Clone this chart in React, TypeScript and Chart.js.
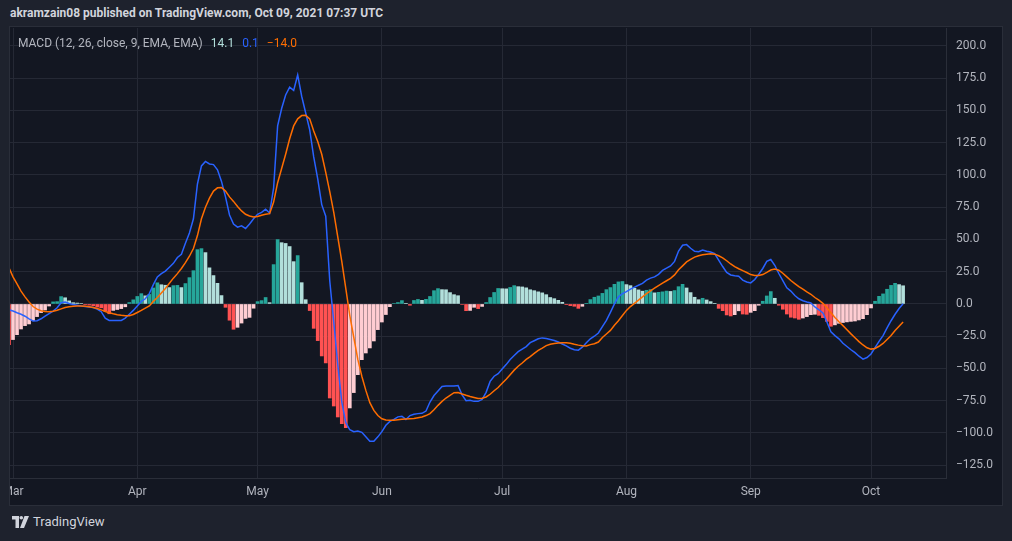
import { useEffect, useRef } from 'react';
import { Chart, registerables } from 'chart.js';

Chart.register(...registerables);

// ---- data (days counted from 2021-03-01 = 0) ----
const START_DAY = -1;
const MONTH_LABELS = ['Mar', 'Apr', 'May', 'Jun', 'Jul', 'Aug', 'Sep', 'Oct'];
const MONTH_START_DAY = [0, 31, 61, 92, 122, 153, 184, 214];
const Y_TICKS = [-125, -100, -75, -50, -25, 0, 25, 50, 75, 100, 125, 150, 175, 200];

const histogram = [
  -31.5, -27.6, -23.8, -19.4, -16.8, -15.5, -12.9, -9.8, -6.7, -4.7, -1.6,
  1.6, 1.8, 5.7, 4.8, 2.4, 1.0, 0.7, 0.4, -0.5, -0.9,
  -1.4, -2.4, -3.0, -5.5, -7.6, -5.0, -4.3, -3.6, -2.2, 1.1,
  3.2, 5.8, 8.0, 6.3, 7.4, 12.4, 16.4, 14.9, 14.5, 12.7,
  14.2, 14.4, 12.7, 15.8, 20.4, 25.8, 42.1, 42.9, 39.8, 28.0,
  22.0, 16.0, 6.5, -2.6, -12.6, -19.6, -18.1, -14.8, -11.2, -10.4,
  -3.3, 1.8, 2.6, 5.0, 1.0, 30.5, 49.9, 47.5, 46.9, 44.5,
  32.8, 37.5, 16.5, 3.3, -5.1, -18.9, -28.4, -40.3, -45.7, -72.9,
  -79.1, -87.6, -92.8, -95.9, -80.6, -68.7, -54.8, -43.2, -38.0, -34.1,
  -28.7, -19.9, -14.0, -8.2, -2.1, 0.4, 1.1, 2.6, 0.3, -1.0,
  2.7, 3.5, 2.8, 3.6, 5.8, 10.3, 11.9, 11.1, 11.0, 8.8,
  7.2, 6.4, -0.4, -5.2, -5.0, -2.6, -3.6, -1.9, 1.1, 5.0,
  8.9, 12.0, 11.8, 11.7, 12.8, 14.2, 13.4, 13.2, 12.5, 11.0,
  10.3, 9.4, 8.6, 7.2, 5.0, 4.1, 2.8, 1.3, -0.5, -1.3,
  -1.8, -3.4, -1.8, 0.5, 3.4, 5.2, 6.2, 8.2, 11.1, 12.7,
  15.2, 17.1, 17.4, 15.0, 14.2, 12.2, 10.9, 9.9, 10.6, 11.1,
  8.6, 9.0, 9.4, 10.0, 9.7, 10.4, 13.4, 15.2, 12.4, 8.8,
  5.2, 3.3, 4.4, 3.1, 1.8, 0.5, -3.4, -5.2, -8.5, -9.3,
  -8.3, -5.3, -7.8, -8.0, -6.5, -5.2, -1.0, 2.1, 6.2, 9.6,
  4.4, -1.0, -4.1, -7.8, -10.3, -10.9, -11.9, -10.9, -9.8, -8.3,
  -8.0, -8.8, -10.6, -13.5, -17.3, -16.2, -15.0, -14.4, -13.9, -13.5,
  -13.2, -12.4, -11.4, -8.3, -3.1, 2.1, 5.9, 7.8, 11.4, 14.4,
  16.0, 15.0, 14.1,
];

const macd = [
  -4.5, -5.5, -6.8, -8.0, -9.5, -11.5, -13.2, -13.0, -11.5, -9.5, -7.5,
  -5.5, -3.0, 1.0, 1.5, 0.3, -0.5, -1.0, -1.5, -1.9, -2.3,
  -2.8, -4.0, -6.0, -11.0, -12.8, -12.8, -12.8, -12.8, -11.0, -8.0,
  -5.0, -1.5, 2.0, 4.0, 8.0, 15.0, 21.0, 23.5, 25.5, 28.5,
  31.5, 36.0, 38.5, 47.0, 55.0, 66.0, 93.0, 107.0, 110.5, 108.5,
  108.0, 104.0, 95.0, 83.0, 69.0, 62.0, 59.5, 60.5, 58.5, 62.0,
  66.0, 69.5, 71.0, 73.5, 70.5, 90.0, 138.0, 151.5, 162.0, 168.0,
  165.5, 177.5, 161.0, 148.0, 135.0, 114.0, 97.0, 77.0, 68.0, 18.0,
  -14.0, -47.0, -76.0, -92.0, -97.5, -99.0, -98.5, -99.5, -103.0, -106.5,
  -106.5, -103.0, -99.0, -94.0, -91.0, -89.5, -87.5, -87.0, -89.5, -86.5,
  -85.5, -85.0, -84.8, -83.0, -76.0, -71.0, -67.5, -64.0, -63.6, -63.6,
  -63.5, -63.2, -70.5, -75.0, -74.7, -75.5, -75.5, -74.0, -68.5, -60.0,
  -56.0, -54.0, -50.5, -47.0, -43.0, -40.0, -37.0, -35.0, -33.0, -30.0,
  -28.5, -27.0, -26.3, -26.8, -27.5, -28.3, -29.5, -31.0, -32.5, -34.3,
  -35.5, -35.8, -33.5, -30.0, -27.0, -25.0, -22.5, -17.5, -12.7, -6.5,
  0.0, 5.5, 8.0, 9.5, 11.5, 13.0, 14.5, 16.0, 18.5, 20.0,
  21.0, 23.0, 26.0, 27.8, 29.5, 33.0, 41.0, 45.5, 46.0, 43.2,
  40.8, 40.5, 41.8, 40.8, 40.2, 39.0, 34.0, 29.0, 24.5, 22.5,
  21.8, 21.5, 18.5, 17.0, 16.3, 19.0, 23.0, 27.5, 33.0, 34.5,
  30.0, 23.6, 18.0, 12.5, 10.0, 6.5, 4.0, 2.5, 1.5, 0.8,
  -2.3, -4.5, -7.0, -14.0, -21.5, -24.5, -27.0, -30.5, -33.0, -35.5,
  -37.7, -40.5, -42.8, -41.5, -38.8, -33.8, -29.0, -24.5, -18.5, -13.0,
  -8.0, -3.5, 0.1,
];

const signal = [
  28.0, 21.0, 15.5, 10.0, 5.5, 1.5, -2.0, -4.0, -5.3, -5.9, -6.0,
  -5.6, -4.9, -3.8, -2.8, -2.2, -1.7, -1.5, -1.5, -1.7, -2.2,
  -2.8, -3.5, -4.6, -5.8, -6.8, -7.6, -8.3, -8.8, -9.2, -9.2,
  -8.2, -6.6, -5.0, -3.2, -1.5, 2.0, 5.0, 8.5, 12.0, 16.0,
  20.0, 23.5, 27.5, 32.0, 37.0, 43.0, 53.0, 66.0, 75.0, 82.0,
  87.5, 90.0, 90.3, 87.5, 83.0, 79.5, 75.5, 72.1, 69.5, 68.2,
  67.4, 67.8, 68.8, 69.5, 70.0, 79.0, 94.0, 105.0, 116.0, 128.0,
  138.0, 143.5, 146.0, 146.2, 143.5, 134.0, 126.0, 116.0, 102.0, 87.0,
  71.0, 52.0, 33.0, 12.0, -9.0, -26.0, -43.0, -56.0, -67.0, -76.5,
  -82.5, -86.5, -89.0, -90.0, -90.2, -90.2, -89.8, -89.4, -89.2, -89.0,
  -88.8, -88.2, -87.6, -86.5, -85.0, -82.0, -78.6, -75.5, -72.9, -70.8,
  -68.8, -68.7, -69.8, -70.8, -71.7, -72.5, -73.3, -73.0, -72.1, -70.0,
  -67.3, -64.8, -61.5, -58.3, -54.8, -51.3, -48.3, -45.8, -43.0, -40.8,
  -38.3, -36.0, -34.2, -32.3, -31.2, -30.6, -30.2, -30.1, -30.1, -30.4,
  -31.2, -31.9, -32.4, -32.6, -31.5, -30.8, -29.5, -26.0, -23.3, -20.5,
  -16.5, -13.0, -9.0, -5.0, -2.0, 0.5, 3.0, 5.5, 8.0, 10.2,
  12.2, 14.2, 16.2, 18.0, 19.8, 22.5, 26.5, 29.5, 32.6, 34.5,
  36.3, 37.4, 38.2, 38.6, 39.0, 38.6, 37.4, 35.8, 33.5, 31.0,
  29.0, 27.3, 25.8, 24.4, 22.8, 22.1, 22.0, 22.8, 24.5, 26.3,
  27.0, 26.2, 23.8, 21.0, 18.2, 15.8, 13.5, 11.5, 9.3, 7.5,
  5.0, 3.0, 0.5, -3.0, -6.8, -10.5, -13.8, -16.8, -20.0, -23.2,
  -26.2, -29.2, -31.8, -34.0, -35.0, -34.5, -32.8, -30.6, -27.6, -24.5,
  -20.6, -17.3, -14.0,
];

// ---- styling ----
const X_MIN = -0.75;
const X_MAX = 232.7;
const Y_MIN = -134.9;
const Y_MAX = 213.9;
const PAGE_BG = '#1e222d';
const PLOT_BG = '#131722';
const GRID = '#252935';
const AXIS_LINE = '#2a2e39';
const TEXT = '#b2b5be';
const UP_GROW = '#26a69a';
const UP_FALL = '#b2dfdb';
const DOWN_GROW = '#ffcdd2';
const DOWN_FALL = '#ff5252';
const MACD_COLOR = '#2962ff';
const SIGNAL_COLOR = '#ff6d00';
const FONT = 'Roboto, "Liberation Sans", sans-serif';

const fmt = (v: number) => (v < 0 ? '\u2212' : '') + Math.abs(v).toFixed(1);

function barColor(i: number): string {
  const v = histogram[i];
  if (i === 0) return v >= 0 ? UP_GROW : DOWN_FALL;
  const p = histogram[i - 1];
  if (v >= 0) return v > p ? UP_GROW : UP_FALL;
  return v < p ? DOWN_FALL : DOWN_GROW;
}

export default function App() {
  const ref = useRef<HTMLCanvasElement>(null);

  useEffect(() => {
    if (!ref.current) return;
    const pts = (arr: number[]) => arr.map((v, i) => ({ x: START_DAY + i, y: v }));
    const chart = new Chart(ref.current, {
      type: 'bar',
      data: {
        datasets: [
          {
            type: 'line',
            label: 'Signal',
            data: pts(signal),
            borderColor: SIGNAL_COLOR,
            borderWidth: 1.5,
            pointRadius: 0,
            tension: 0,
            order: 0,
          } as any,
          {
            type: 'line',
            label: 'MACD',
            data: pts(macd),
            borderColor: MACD_COLOR,
            borderWidth: 1.5,
            pointRadius: 0,
            tension: 0,
            order: 1,
          } as any,
          {
            type: 'bar',
            label: 'Histogram',
            data: pts(histogram),
            backgroundColor: histogram.map((_, i) => barColor(i)),
            borderWidth: 0,
            barThickness: 3,
            order: 2,
          } as any,
        ],
      },
      options: {
        animation: false,
        responsive: false,
        maintainAspectRatio: false,
        events: [],
        layout: { padding: { top: 1, left: 0, right: 0, bottom: 0 } },
        plugins: { legend: { display: false }, tooltip: { enabled: false } },
        scales: {
          x: {
            type: 'linear',
            min: X_MIN,
            max: X_MAX,
            offset: false,
            grid: { color: GRID, drawTicks: false, offset: false },
            border: { color: AXIS_LINE },
            ticks: {
              color: TEXT,
              font: { family: FONT, size: 12 },
              padding: 7,
              autoSkip: false,
              maxRotation: 0,
              callback: (v: any) => {
                const idx = MONTH_START_DAY.indexOf(Number(v));
                return idx >= 0 ? MONTH_LABELS[idx] : '';
              },
            },
            afterBuildTicks: (s: any) => {
              s.ticks = MONTH_START_DAY.map((v) => ({ value: v }));
            },
            afterFit: (s: any) => {
              s.height = 27;
              s.paddingLeft = 0;
              s.paddingRight = 0;
            },
          },
          y: {
            type: 'linear',
            position: 'right',
            min: Y_MIN,
            max: Y_MAX,
            grid: { color: GRID, drawTicks: false, offset: false },
            border: { color: AXIS_LINE },
            ticks: {
              color: TEXT,
              font: { family: FONT, size: 12 },
              padding: 10,
              callback: (v: any) => fmt(Number(v)),
            },
            afterBuildTicks: (s: any) => {
              s.ticks = Y_TICKS.map((v) => ({ value: v }));
            },
            afterFit: (s: any) => {
              s.width = 56;
              s.paddingTop = 0;
              s.paddingBottom = 0;
            },
          },
        },
      } as any,
    });
    return () => chart.destroy();
  }, []);

  const last = histogram.length - 1;

  return (
    <div
      style={{
        position: 'fixed',
        left: 0,
        top: 0,
        width: 1012,
        height: 541,
        background: PAGE_BG,
        overflow: 'hidden',
        fontFamily: FONT,
      }}
    >
      <div
        style={{
          position: 'absolute',
          left: 10,
          top: 5,
          fontSize: 12,
          fontWeight: 700,
          color: '#d1d4dc',
          whiteSpace: 'nowrap',
          lineHeight: '16px',
        }}
      >
        akramzain08 published on TradingView.com, Oct 09, 2021 07:37 UTC
      </div>
      <div
        style={{
          position: 'absolute',
          left: 9,
          top: 26,
          width: 992,
          height: 478,
          border: `1px solid ${AXIS_LINE}`,
          background: PLOT_BG,
        }}
      >
        <canvas ref={ref} width={992} height={478} style={{ display: 'block', width: 992, height: 478 }} />
        <div
          style={{
            position: 'absolute',
            left: 8,
            top: 8,
            fontSize: 12,
            color: TEXT,
            whiteSpace: 'nowrap',
            lineHeight: '16px',
          }}
        >
          MACD (12, 26, close, 9, EMA, EMA)
          <span style={{ color: UP_FALL, marginLeft: 8 }}>{fmt(histogram[last])}</span>
          <span style={{ color: MACD_COLOR, marginLeft: 8 }}>{fmt(macd[last])}</span>
          <span style={{ color: SIGNAL_COLOR, marginLeft: 8 }}>{fmt(signal[last])}</span>
        </div>
      </div>
      <div
        style={{
          position: 'absolute',
          left: 12,
          top: 514,
          display: 'flex',
          alignItems: 'center',
          color: '#d1d4dc',
        }}
      >
        <svg width="17" height="12" viewBox="0 0 17 12" style={{ display: 'block' }}>
          <path d="M0 0 H7 V12 H3.5 V3.5 H0 Z" fill="#d1d4dc" />
          <circle cx="9.3" cy="1.8" r="1.8" fill="#d1d4dc" />
          <path d="M12.5 0 H17 L12 12 H8 Z" fill="#d1d4dc" />
        </svg>
        <span style={{ marginLeft: 4, fontSize: 13, lineHeight: '16px' }}>TradingView</span>
      </div>
    </div>
  );
}
